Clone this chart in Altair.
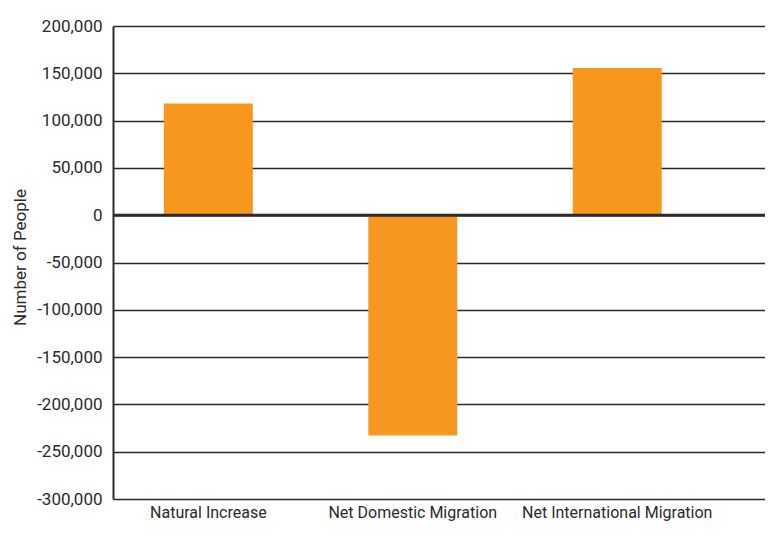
import altair as alt
import pandas as pd

categories = ["Natural Increase", "Net Domestic Migration", "Net International Migration"]
values = [118000, -233000, 155500]
y_ticks = [-300000, -250000, -200000, -150000, -100000, -50000, 0, 50000, 100000, 150000, 200000]

df = pd.DataFrame({"category": categories, "value": values})
zero = pd.DataFrame({"y": [0]})

FONT = "Roboto"
ORANGE = "#F7971F"
DARK = "#2b2b2b"

bars = alt.Chart(df).mark_bar(color=ORANGE).encode(
    x=alt.X("category:N", sort=categories, title=None,
            scale=alt.Scale(paddingInner=0.565, paddingOuter=0.377, align=0.33),
            axis=alt.Axis(labelAngle=0, labelFont=FONT, labelFontSize=16, labelColor=DARK,
                          labelOverlap=False, labelLimit=300,
                          ticks=False, domain=False, labelPadding=5)),
    y=alt.Y("value:Q", title="Number of People",
            scale=alt.Scale(domain=[-300000, 200000], nice=False),
            axis=alt.Axis(values=y_ticks,
                          labelExpr="replace(format(datum.value, ','), '\u2212', '-')",
                          labelFont=FONT, labelFontSize=17, labelColor=DARK,
                          titleFont=FONT, titleFontSize=17, titleFontWeight="normal",
                          titleColor=DARK, titleX=-88, titleY=231, titleAngle=-90,
                          titleAlign="center", titleBaseline="alphabetic",
                          ticks=False, labelPadding=11,
                          domain=True, domainColor=DARK, domainWidth=2,
                          grid=True, gridColor=DARK, gridWidth=1.6, gridOpacity=1)),
)

zero_line = alt.Chart(zero).mark_rule(color=DARK, strokeWidth=3).encode(y="y:Q")

chart = (bars + zero_line).properties(
    width=652, height=473,
    autosize=alt.AutoSizeParams(type="none"),
    padding={"left": 105, "top": 18, "right": 0, "bottom": 28},
).configure_view(stroke=None)

chart.save("out.html", embed_options={"renderer": "svg", "actions": False})
